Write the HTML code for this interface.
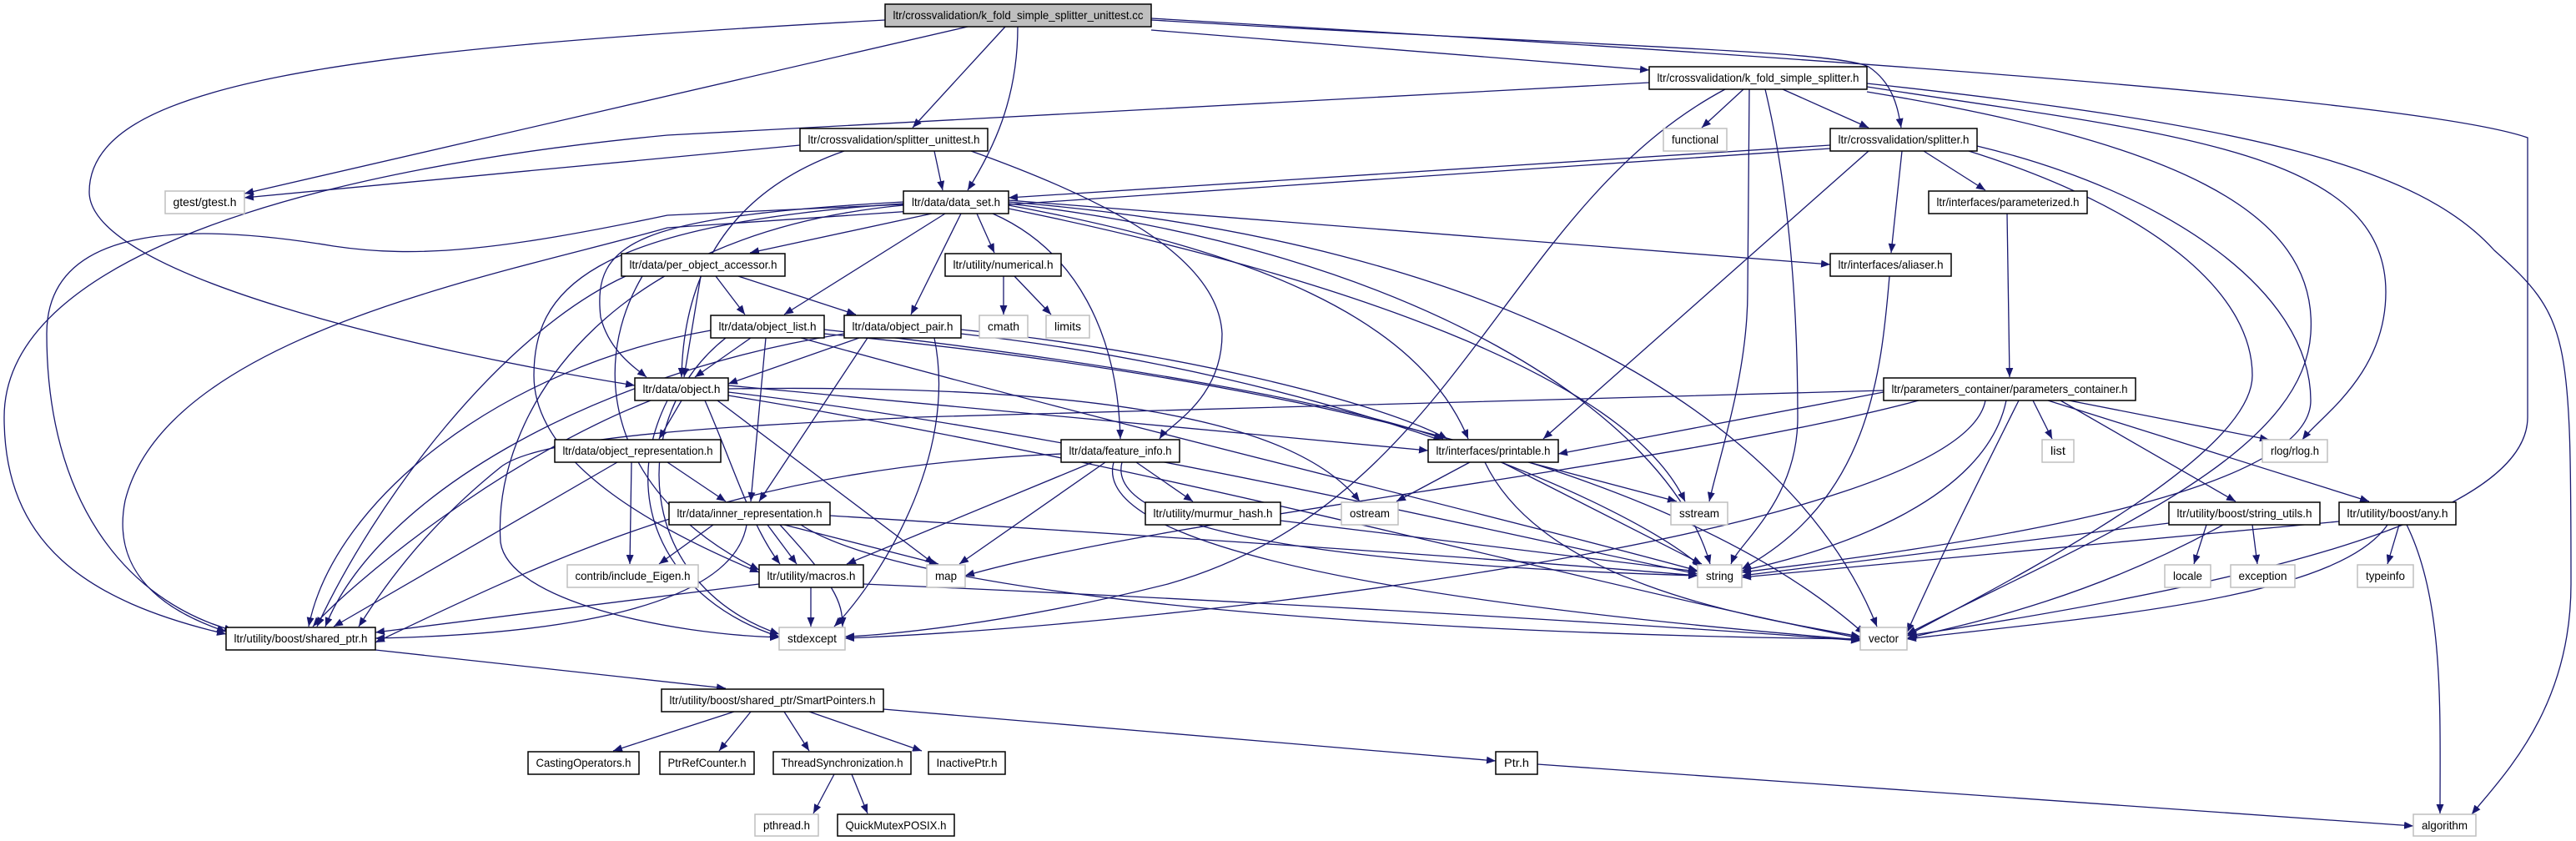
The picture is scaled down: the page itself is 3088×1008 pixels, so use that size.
<!DOCTYPE html>
<html><head><meta charset="utf-8"><style>html,body{margin:0;padding:0;background:#fff}svg{display:block}</style></head><body>
<svg width="3088" height="1008" viewBox="0 0 3088 1008" xmlns="http://www.w3.org/2000/svg">
<defs><marker id="a" markerWidth="11" markerHeight="9" refX="11" refY="4.5" orient="auto" markerUnits="userSpaceOnUse"><path d="M0,0 L11,4.5 L0,9z" fill="#191970"/></marker></defs>
<g fill="none" stroke="#191970" stroke-width="1.3" marker-end="url(#a)">
<path d="M1160,32 L293,232"/>
<path d="M1061,24 C400,60 107,100 107,230 C107,330 500,420 761,462"/>
<path d="M1205,32 L1094,153"/>
<path d="M1220,32 C1220,120 1190,180 1160,228"/>
<path d="M1380,36 L1977,84"/>
<path d="M1380,24 C1900,55 2200,60 2240,80 C2270,100 2275,130 2279,153"/>
<path d="M1380,22 C2200,70 2900,120 3030,165 L3030,500 C3030,620 2700,700 2287,762"/>
<path d="M2238,100 C2700,150 2900,200 2990,300 C3080,380 3082,400 3082,700 C3082,850 3000,930 2963,976"/>
<path d="M1977,99 L800,162 C400,200 5,300 5,500 C5,650 100,720 271,760"/>
<path d="M2090,107 L2040,153"/>
<path d="M2137,107 L2240,153"/>
<path d="M2097,107 L2095,350 C2095,450 2060,550 2049,601"/>
<path d="M2116,107 C2150,250 2155,400 2155,500 C2155,600 2085,650 2075,676"/>
<path d="M2068,107 C1800,250 1750,600 1400,700 C1200,750 1050,762 1013,763"/>
<path d="M2238,110 C2600,170 2780,250 2770,400 C2760,550 2500,650 2286,760"/>
<path d="M2238,104 C2600,160 2860,180 2860,350 C2860,450 2780,500 2760,527"/>
<path d="M959,174 L293,237"/>
<path d="M1120,181 L1130,228"/>
<path d="M1012,181 C900,220 820,300 817,452"/>
<path d="M1164,181 C1300,230 1460,300 1465,400 C1465,480 1400,510 1390,526"/>
<path d="M2194,174 L1209,237"/>
<path d="M2194,178 L800,273 C600,330 200,400 150,600 C130,700 220,740 271,757"/>
<path d="M2240,181 L1850,526"/>
<path d="M2306,181 L2380,228"/>
<path d="M2280,181 L2267,303"/>
<path d="M2370,175 C2600,230 2770,350 2770,480 C2770,600 2300,660 2088,686"/>
<path d="M2360,181 C2580,250 2700,350 2700,450 C2700,550 2400,700 2286,762"/>
<path d="M2406,256 L2409,452"/>
<path d="M1117,256 L899,303"/>
<path d="M1133,256 L940,377"/>
<path d="M1152,256 L1092,377"/>
<path d="M1171,256 L1192,303"/>
<path d="M1083,242 C760,260 710,290 720,380 C730,420 760,440 775,452"/>
<path d="M1083,245 L800,258 C600,300 500,310 400,295 C250,270 56,260 56,400 C56,600 150,720 280,756"/>
<path d="M1190,256 C1290,300 1340,400 1343,526"/>
<path d="M1083,244 C700,270 640,350 640,450 C640,560 800,640 910,686"/>
<path d="M1083,246 C720,280 590,500 600,650 C610,720 800,760 934,764"/>
<path d="M1209,240 L2194,317"/>
<path d="M1209,246 C1500,300 1700,380 1760,526"/>
<path d="M1209,250 C1600,330 1950,450 2020,601"/>
<path d="M1209,244 C1700,300 2000,500 2050,676"/>
<path d="M1209,242 C1800,290 2150,500 2250,751"/>
<path d="M1203,331 L1203,377"/>
<path d="M1216,331 L1260,377"/>
<path d="M858,331 L893,377"/>
<path d="M885,331 L1026,377"/>
<path d="M840,331 L820,452"/>
<path d="M750,331 C600,400 450,600 380,751"/>
<path d="M770,331 C700,450 740,600 910,683"/>
<path d="M900,405 L833,452"/>
<path d="M918,405 L900,601"/>
<path d="M988,395 C1300,430 1600,480 1730,526"/>
<path d="M852,396 C600,440 400,600 370,751"/>
<path d="M960,405 C1300,500 1800,620 2035,684"/>
<path d="M870,405 C750,500 760,700 934,760"/>
<path d="M988,400 C1500,450 2000,550 2235,760"/>
<path d="M1030,405 L873,460"/>
<path d="M1040,405 L910,601"/>
<path d="M1152,395 C1400,420 1650,480 1735,526"/>
<path d="M1120,405 C1150,550 1050,700 1000,751"/>
<path d="M1152,400 C1600,450 1950,600 2040,680"/>
<path d="M1012,400 C700,450 450,600 390,751"/>
<path d="M817,480 L790,526"/>
<path d="M860,480 L1120,676"/>
<path d="M873,462 L1712,540"/>
<path d="M780,480 C600,550 420,700 375,751"/>
<path d="M873,466 C1300,460 1550,500 1630,601"/>
<path d="M800,480 C740,600 800,720 934,763"/>
<path d="M873,470 C1300,520 1800,640 2035,688"/>
<path d="M873,474 C1400,560 1900,700 2230,765"/>
<path d="M845,480 C880,560 900,630 935,676"/>
<path d="M800,554 L870,601"/>
<path d="M757,554 L755,676"/>
<path d="M740,554 L400,751"/>
<path d="M855,629 L790,676"/>
<path d="M920,629 L955,676"/>
<path d="M895,629 C880,720 700,760 450,765"/>
<path d="M940,629 L1125,676"/>
<path d="M995,618 C1500,650 1800,670 2035,690"/>
<path d="M935,629 C1000,700 1010,720 1010,751"/>
<path d="M960,629 C1100,720 1700,760 2230,766"/>
<path d="M1310,554 L1015,676"/>
<path d="M1325,554 L1150,676"/>
<path d="M1362,554 L1430,601"/>
<path d="M1345,554 C1320,650 1700,680 2035,690"/>
<path d="M1335,554 C1300,680 1900,740 2230,767"/>
<path d="M1272,544 C900,560 700,650 450,770"/>
<path d="M1535,624 L2035,685"/>
<path d="M1762,554 L1674,601"/>
<path d="M1832,554 L2010,601"/>
<path d="M1800,554 L2040,676"/>
<path d="M1780,554 C1850,700 2100,740 2230,763"/>
<path d="M2265,331 C2255,450 2240,600 2088,682"/>
<path d="M2258,470 L1868,544"/>
<path d="M2437,480 L2460,526"/>
<path d="M2480,480 L2720,527"/>
<path d="M2470,480 L2680,601"/>
<path d="M2455,480 L2840,601"/>
<path d="M2405,480 C2380,600 2200,660 2088,684"/>
<path d="M2300,480 C2000,560 1400,620 1157,690"/>
<path d="M2380,480 C2350,640 1400,750 1013,765"/>
<path d="M2420,480 C2360,600 2330,660 2286,758"/>
<path d="M2258,468 L1100,500 C900,510 650,520 600,560 C500,640 450,720 430,751"/>
<path d="M2600,627 L2088,690"/>
<path d="M2645,629 L2630,676"/>
<path d="M2700,629 L2706,676"/>
<path d="M2665,629 C2500,720 2350,750 2286,765"/>
<path d="M2876,629 L2862,676"/>
<path d="M2804,625 L2088,692"/>
<path d="M2862,629 C2800,720 2500,740 2286,766"/>
<path d="M2885,629 C2930,720 2925,850 2925,975"/>
<path d="M910,700 L450,758"/>
<path d="M972,704 L972,751"/>
<path d="M1035,700 C1500,720 2000,750 2230,768"/>
<path d="M450,779 L870,825"/>
<path d="M880,853 L735,900"/>
<path d="M900,853 L862,900"/>
<path d="M940,853 L970,900"/>
<path d="M970,853 L1105,900"/>
<path d="M1059,850 L1793,912"/>
<path d="M1000,928 L975,975"/>
<path d="M1021,928 L1040,975"/>
<path d="M1843,916 L2893,990"/>
</g>
<g font-family="Liberation Sans, sans-serif" font-size="14" text-anchor="middle" fill="#000">
<!-- nodes: rect + text -->
<g stroke="#000" stroke-width="1.5" fill="#fff">
<rect x="1061" y="5" width="319" height="27" fill="#bfbfbf"/>
<rect x="1977" y="80" width="261" height="27"/>
<rect x="959" y="154" width="225" height="27"/>
<rect x="2194" y="154" width="176" height="27"/>
<rect x="1083" y="229" width="126" height="27"/>
<rect x="2312" y="229" width="190" height="27"/>
<rect x="745" y="304" width="196" height="27"/>
<rect x="1133" y="304" width="139" height="27"/>
<rect x="2194" y="304" width="145" height="27"/>
<rect x="852" y="378" width="136" height="27"/>
<rect x="1012" y="378" width="140" height="27"/>
<rect x="761" y="453" width="112" height="27"/>
<rect x="2258" y="453" width="302" height="27"/>
<rect x="665" y="527" width="199" height="27"/>
<rect x="1272" y="527" width="142" height="27"/>
<rect x="1712" y="527" width="156" height="27"/>
<rect x="802" y="602" width="193" height="27"/>
<rect x="1373" y="602" width="162" height="27"/>
<rect x="2600" y="602" width="181" height="27"/>
<rect x="2804" y="602" width="140" height="27"/>
<rect x="910" y="677" width="125" height="27"/>
<rect x="271" y="752" width="179" height="27"/>
<rect x="793" y="826" width="266" height="27"/>
<rect x="633" y="901" width="133" height="27"/>
<rect x="791" y="901" width="113" height="27"/>
<rect x="927" y="901" width="165" height="27"/>
<rect x="1113" y="901" width="92" height="27"/>
<rect x="1793" y="901" width="50" height="27"/>
<rect x="1004" y="976" width="140" height="26"/>
</g>
<g stroke="#bfbfbf" stroke-width="1.5" fill="#fff">
<rect x="1994" y="154" width="76" height="27"/>
<rect x="198" y="229" width="95" height="27"/>
<rect x="1174" y="378" width="58" height="27"/>
<rect x="1254" y="378" width="52" height="27"/>
<rect x="2448" y="527" width="38" height="27"/>
<rect x="2712" y="527" width="78" height="27"/>
<rect x="1608" y="602" width="68" height="27"/>
<rect x="2003" y="602" width="68" height="27"/>
<rect x="680" y="677" width="157" height="27"/>
<rect x="1111" y="677" width="46" height="27"/>
<rect x="2035" y="677" width="53" height="27"/>
<rect x="2595" y="677" width="55" height="27"/>
<rect x="2674" y="677" width="77" height="27"/>
<rect x="2826" y="677" width="67" height="27"/>
<rect x="934" y="752" width="79" height="27"/>
<rect x="2230" y="752" width="56" height="27"/>
<rect x="905" y="976" width="76" height="26"/>
<rect x="2893" y="976" width="75" height="26"/>
</g>
<text x="1220.5" y="23" textLength="300" lengthAdjust="spacingAndGlyphs">ltr/crossvalidation/k_fold_simple_splitter_unittest.cc</text>
<text x="2107.5" y="98" textLength="242" lengthAdjust="spacingAndGlyphs">ltr/crossvalidation/k_fold_simple_splitter.h</text>
<text x="1071.5" y="172" textLength="206" lengthAdjust="spacingAndGlyphs">ltr/crossvalidation/splitter_unittest.h</text>
<text x="2282" y="172" textLength="157" lengthAdjust="spacingAndGlyphs">ltr/crossvalidation/splitter.h</text>
<text x="2032" y="172" textLength="56" lengthAdjust="spacingAndGlyphs">functional</text>
<text x="245.5" y="247" textLength="76" lengthAdjust="spacingAndGlyphs">gtest/gtest.h</text>
<text x="1146" y="247" textLength="106" lengthAdjust="spacingAndGlyphs">ltr/data/data_set.h</text>
<text x="2407" y="247" textLength="171" lengthAdjust="spacingAndGlyphs">ltr/interfaces/parameterized.h</text>
<text x="843" y="322" textLength="177" lengthAdjust="spacingAndGlyphs">ltr/data/per_object_accessor.h</text>
<text x="1202.5" y="322" textLength="120" lengthAdjust="spacingAndGlyphs">ltr/utility/numerical.h</text>
<text x="2266.5" y="322" textLength="126" lengthAdjust="spacingAndGlyphs">ltr/interfaces/aliaser.h</text>
<text x="920" y="396" textLength="117" lengthAdjust="spacingAndGlyphs">ltr/data/object_list.h</text>
<text x="1082" y="396" textLength="121" lengthAdjust="spacingAndGlyphs">ltr/data/object_pair.h</text>
<text x="1203" y="396" textLength="38" lengthAdjust="spacingAndGlyphs">cmath</text>
<text x="1280" y="396" textLength="32" lengthAdjust="spacingAndGlyphs">limits</text>
<text x="817" y="471" textLength="93" lengthAdjust="spacingAndGlyphs">ltr/data/object.h</text>
<text x="2409" y="471" textLength="283" lengthAdjust="spacingAndGlyphs">ltr/parameters_container/parameters_container.h</text>
<text x="764.5" y="545" textLength="180" lengthAdjust="spacingAndGlyphs">ltr/data/object_representation.h</text>
<text x="1343" y="545" textLength="123" lengthAdjust="spacingAndGlyphs">ltr/data/feature_info.h</text>
<text x="1790" y="545" textLength="137" lengthAdjust="spacingAndGlyphs">ltr/interfaces/printable.h</text>
<text x="2467" y="545" textLength="18" lengthAdjust="spacingAndGlyphs">list</text>
<text x="2751" y="545" textLength="58" lengthAdjust="spacingAndGlyphs">rlog/rlog.h</text>
<text x="898.5" y="620" textLength="174" lengthAdjust="spacingAndGlyphs">ltr/data/inner_representation.h</text>
<text x="1454" y="620" textLength="143" lengthAdjust="spacingAndGlyphs">ltr/utility/murmur_hash.h</text>
<text x="1642" y="620" textLength="48" lengthAdjust="spacingAndGlyphs">ostream</text>
<text x="2037" y="620" textLength="48" lengthAdjust="spacingAndGlyphs">sstream</text>
<text x="2690.5" y="620" textLength="162" lengthAdjust="spacingAndGlyphs">ltr/utility/boost/string_utils.h</text>
<text x="2874" y="620" textLength="121" lengthAdjust="spacingAndGlyphs">ltr/utility/boost/any.h</text>
<text x="758.5" y="695" textLength="138" lengthAdjust="spacingAndGlyphs">contrib/include_Eigen.h</text>
<text x="972.5" y="695" textLength="106" lengthAdjust="spacingAndGlyphs">ltr/utility/macros.h</text>
<text x="1134" y="695" textLength="26" lengthAdjust="spacingAndGlyphs">map</text>
<text x="2061.5" y="695" textLength="33" lengthAdjust="spacingAndGlyphs">string</text>
<text x="2622.5" y="695" textLength="35" lengthAdjust="spacingAndGlyphs">locale</text>
<text x="2712.5" y="695" textLength="58" lengthAdjust="spacingAndGlyphs">exception</text>
<text x="2859.5" y="695" textLength="47" lengthAdjust="spacingAndGlyphs">typeinfo</text>
<text x="360.5" y="770" textLength="160" lengthAdjust="spacingAndGlyphs">ltr/utility/boost/shared_ptr.h</text>
<text x="973.5" y="770" textLength="59" lengthAdjust="spacingAndGlyphs">stdexcept</text>
<text x="2258" y="770" textLength="36" lengthAdjust="spacingAndGlyphs">vector</text>
<text x="926" y="844" textLength="247" lengthAdjust="spacingAndGlyphs">ltr/utility/boost/shared_ptr/SmartPointers.h</text>
<text x="699.5" y="919" textLength="114" lengthAdjust="spacingAndGlyphs">CastingOperators.h</text>
<text x="847.5" y="919" textLength="94" lengthAdjust="spacingAndGlyphs">PtrRefCounter.h</text>
<text x="1009.5" y="919" textLength="146" lengthAdjust="spacingAndGlyphs">ThreadSynchronization.h</text>
<text x="1159" y="919" textLength="73" lengthAdjust="spacingAndGlyphs">InactivePtr.h</text>
<text x="1818" y="919" textLength="30" lengthAdjust="spacingAndGlyphs">Ptr.h</text>
<text x="943" y="994" textLength="56" lengthAdjust="spacingAndGlyphs">pthread.h</text>
<text x="1074" y="994" textLength="121" lengthAdjust="spacingAndGlyphs">QuickMutexPOSIX.h</text>
<text x="2930.5" y="994" textLength="55" lengthAdjust="spacingAndGlyphs">algorithm</text>
</g>
</svg>
</body></html>
